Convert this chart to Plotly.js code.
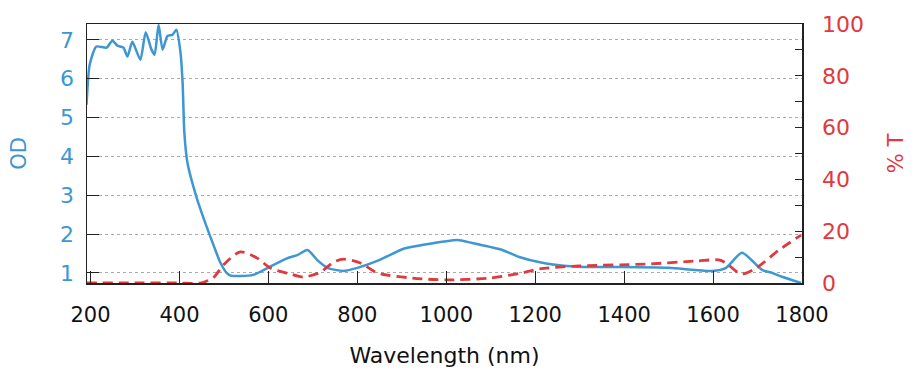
<!DOCTYPE html>
<html>
<head>
<meta charset="utf-8">
<script src="https://cdn.plot.ly/plotly-3.0.1.min.js"></script>
<style>html,body{margin:0;padding:0;background:#fff;}#chart{width:920px;height:382px;}</style>
</head>
<body>
<div id="chart"></div>
<script>
// Optical density (left axis)
const odWavelength = [191,198,213,236,249,261,274,283,294,312,324,337,344,353,362,373,384,393,402,407,411,418,438,461,483,492,506,515,535,566,602,643,665,688,710,733,769,800,849,897,910,946,1025,1058,1126,1164,1216,1270,1328,1396,1501,1598,1629,1665,1710,1733,1755,1798];
const odValues = [5.33,6.36,6.83,6.80,6.98,6.85,6.80,6.57,6.95,6.49,7.20,6.75,6.62,7.39,6.75,7.10,7.13,7.26,6.70,5.90,4.60,3.83,2.96,2.19,1.52,1.26,1.0,0.93,0.92,0.95,1.15,1.38,1.46,1.59,1.33,1.13,1.05,1.13,1.33,1.59,1.64,1.72,1.85,1.77,1.59,1.41,1.26,1.18,1.15,1.15,1.13,1.05,1.13,1.52,1.08,1.0,0.9,0.74];
// Transmission % (right axis)
const tWavelength = [191,300,400,447,476,499,537,575,604,649,679,717,746,769,807,845,924,1000,1097,1171,1209,1299,1449,1562,1613,1629,1663,1697,1748,1798];
const tValues = [0,0,0,0,2,7,12,9.6,5.8,3.5,2.3,4.2,8,9.2,7.7,3.9,1.9,1.2,1.9,3.9,5.4,6.6,7.3,8.5,8.9,7.7,3.5,5.8,12.7,18.5];
const xTicks = [200,400,600,800,1000,1200,1400,1600,1800];

const blue = '#3d97d3';
const red = '#e0393e';
const FONT = 'DejaVu Sans, Verdana, sans-serif';

const traces = [
  {x: odWavelength, y: odValues, type: 'scatter', mode: 'lines', line: {color: blue, width: 2.5, shape: 'spline', smoothing: 0.6}, yaxis: 'y', hoverinfo: 'skip'},
  {x: tWavelength, y: tValues, type: 'scatter', mode: 'lines', line: {color: red, width: 2.8, dash: '10px,6px', shape: 'spline', smoothing: 0.8}, yaxis: 'y2', hoverinfo: 'skip'}
];

const layout = {
  width: 920, height: 382,
  margin: {l: 87, r: 118, t: 24, b: 99},
  paper_bgcolor: '#fff', plot_bgcolor: '#fff',
  showlegend: false,
  font: {family: FONT, size: 21, color: '#111'},
  xaxis: {
    range: [192, 1800], tickvals: xTicks, ticktext: xTicks.map(String),
    ticks: 'inside', ticklen: 12, tickcolor: '#222', tickwidth: 1,
    ticklabelstandoff: 12,
    showline: true, linecolor: '#222', linewidth: 1.5, mirror: true,
    showgrid: false, zeroline: false,
    tickfont: {family: FONT, size: 21, color: '#111'},
    title: {text: 'Wavelength (nm)', font: {family: FONT, size: 22, color: '#111'}, standoff: 22}
  },
  yaxis: {
    range: [0.74, 7.41], tick0: 1, dtick: 1,
    ticks: 'inside', ticklen: 12, tickcolor: '#222', tickwidth: 1,
    ticklabelstandoff: 7,
    showline: true, linecolor: '#222', linewidth: 1.5,
    showgrid: true, gridcolor: '#aaaaaa', griddash: 'dot', gridwidth: 1,
    zeroline: false,
    tickfont: {family: FONT, size: 22, color: blue},
    title: {text: 'OD', font: {family: FONT, size: 21, color: blue}, standoff: 27}
  },
  yaxis2: {
    range: [0, 100], tick0: 0, dtick: 20, overlaying: 'y', side: 'right',
    ticks: 'inside', ticklen: 7, tickcolor: '#222', tickwidth: 1,
    ticklabelstandoff: 14,
    minor: {dtick: 10, ticks: 'inside', ticklen: 7, tickcolor: '#222', showgrid: false},
    showline: true, linecolor: '#222', linewidth: 1.5,
    showgrid: false, zeroline: false,
    tickfont: {family: FONT, size: 22, color: red},
    title: {text: '% T', font: {family: FONT, size: 21, color: red}, standoff: 25}
  }
};

Plotly.newPlot('chart', traces, layout, {displayModeBar: false, staticPlot: true});
</script>
</body>
</html>
